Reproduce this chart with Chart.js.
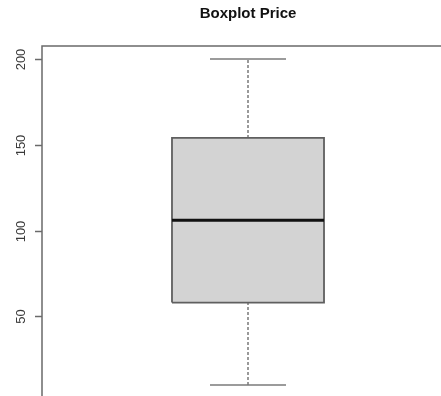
<!DOCTYPE html>
<html>
<head>
<meta charset="utf-8">
<title>Boxplot Price</title>
<script src="https://cdn.jsdelivr.net/npm/chart.js@4.4.1/dist/chart.umd.min.js"></script>
<style>
  html, body { margin: 0; padding: 0; background: #ffffff; overflow: hidden; }
  #wrap { width: 441px; height: 396px; overflow: hidden; }
  canvas { display: block; }
</style>
</head>
<body>
<div id="wrap"><canvas id="chart" width="496" height="420"></canvas></div>
<script>
// Five-number summary of Price
const categories  = ['Price'];
const whiskerLow  = [10];
const lowerQuart  = [58];
const medianVal   = [106];
const upperQuart  = [154];
const whiskerHigh = [200];
const yTickLabels = [50, 100, 150, 200];

// box geometry in x-units (one box centred at 1)
const centre = 1, boxHalf = 0.4, stapleHalf = 0.2;

// y range padded by 4% each side
const span = whiskerHigh[0] - whiskerLow[0];
const yMin = whiskerLow[0] - 0.04 * span;
const yMax = whiskerHigh[0] + 0.04 * span;

const lineDefaults = { pointRadius: 0, pointHoverRadius: 0, fill: false, tension: 0 };

const boxOutline = [
  { x: centre - boxHalf, y: lowerQuart[0] },
  { x: centre + boxHalf, y: lowerQuart[0] },
  { x: centre + boxHalf, y: upperQuart[0] },
  { x: centre - boxHalf, y: upperQuart[0] },
  { x: centre - boxHalf, y: lowerQuart[0] }
];

// frame round the plotting region
const frame = {
  id: 'frame',
  afterDraw(chart) {
    const { ctx, chartArea: a } = chart;
    ctx.save();
    ctx.strokeStyle = '#6a6a6a';
    ctx.lineWidth = 1.5;
    ctx.strokeRect(a.left, a.top, a.right - a.left, a.bottom - a.top);
    ctx.restore();
  }
};

// left axis: tick marks and vertical tick labels
const leftAxis = {
  id: 'leftAxis',
  afterDraw(chart) {
    const { ctx, chartArea: a } = chart;
    const s = chart.scales.y;
    ctx.save();
    ctx.strokeStyle = '#6a6a6a';
    ctx.lineWidth = 1.5;
    ctx.fillStyle = '#3a3a3a';
    ctx.font = '13px "Liberation Sans", Arial, sans-serif';
    ctx.textAlign = 'center';
    ctx.textBaseline = 'alphabetic';
    s.ticks.forEach(t => {
      const y = Math.round(s.getPixelForValue(t.value)) + 0.5;
      ctx.beginPath();
      ctx.moveTo(a.left - 7, y);
      ctx.lineTo(a.left, y);
      ctx.stroke();
      ctx.save();
      ctx.translate(25, y);
      ctx.rotate(-Math.PI / 2);
      ctx.fillText(String(t.value), 0, 0);
      ctx.restore();
    });
    ctx.restore();
  }
};

new Chart(document.getElementById('chart'), {
  type: 'line',
  data: {
    datasets: [
      { // median
        ...lineDefaults,
        data: [{ x: centre - boxHalf, y: medianVal[0] }, { x: centre + boxHalf, y: medianVal[0] }],
        borderColor: '#111111', borderWidth: 3, order: 0
      },
      { // box
        ...lineDefaults,
        data: boxOutline,
        fill: 'shape',
        backgroundColor: '#d3d3d3',
        borderColor: '#5f5f5f', borderWidth: 1.8, order: 1
      },
      { // upper whisker
        ...lineDefaults,
        data: [{ x: centre, y: upperQuart[0] }, { x: centre, y: whiskerHigh[0] }],
        borderColor: '#7a7a7a', borderWidth: 1.5, borderDash: [3, 2], order: 2
      },
      { // lower whisker
        ...lineDefaults,
        data: [{ x: centre, y: whiskerLow[0] }, { x: centre, y: lowerQuart[0] }],
        borderColor: '#7a7a7a', borderWidth: 1.5, borderDash: [3, 2], order: 2
      },
      { // upper staple
        ...lineDefaults,
        data: [{ x: centre - stapleHalf, y: whiskerHigh[0] }, { x: centre + stapleHalf, y: whiskerHigh[0] }],
        borderColor: '#7a7a7a', borderWidth: 1.5, order: 2
      },
      { // lower staple
        ...lineDefaults,
        data: [{ x: centre - stapleHalf, y: whiskerLow[0] }, { x: centre + stapleHalf, y: whiskerLow[0] }],
        borderColor: '#7a7a7a', borderWidth: 1.5, order: 2
      }
    ]
  },
  options: {
    responsive: false,
    animation: false,
    events: [],
    layout: { padding: { left: 42, right: 42, top: 0, bottom: 22 } },
    plugins: {
      legend: { display: false },
      tooltip: { enabled: false },
      title: {
        display: true,
        text: 'Boxplot ' + categories[0],
        color: '#111111',
        font: { family: '"Liberation Sans", Arial, sans-serif', size: 15, weight: 'bold' },
        padding: { top: 5, bottom: 23 }
      }
    },
    scales: {
      x: {
        type: 'linear',
        display: false,
        min: centre - 1.084,
        max: centre + 1.084
      },
      y: {
        type: 'linear',
        min: yMin,
        max: yMax,
        afterBuildTicks(scale) {
          scale.ticks = yTickLabels.map(v => ({ value: v }));
        },
        ticks: { display: false },
        border: { display: false },
        grid: { display: false, drawTicks: false }
      }
    }
  },
  plugins: [frame, leftAxis]
});
</script>
</body>
</html>
